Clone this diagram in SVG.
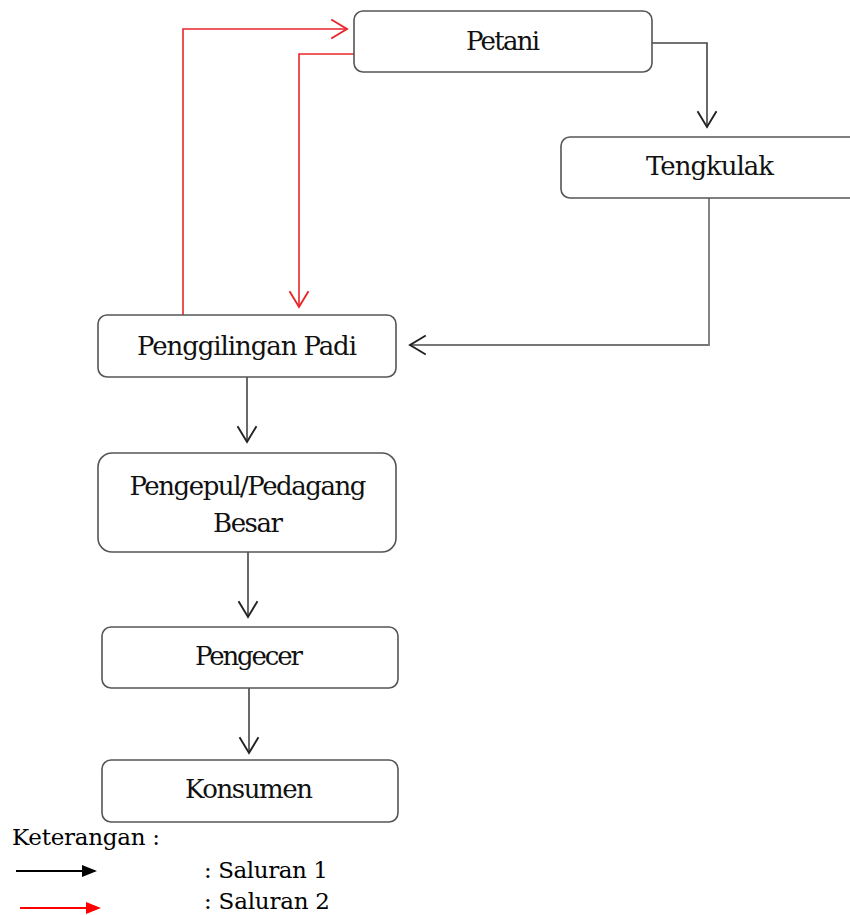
<svg xmlns="http://www.w3.org/2000/svg" width="850" height="915" viewBox="0 0 850 915">
<style>
.box{fill:#fff;stroke:#555;stroke-width:1.6}
.lbl{font-family:'DejaVu Serif',serif;font-size:26px;fill:#111;text-anchor:middle}
.leg{font-family:'DejaVu Serif',serif;font-size:23px;fill:#000}
.blk{fill:none;stroke:#444;stroke-width:1.6}
.gry{fill:none;stroke:#777;stroke-width:1.8}
.red{fill:none;stroke:#e8262a;stroke-width:1.6}
</style>
<defs>
<marker id="ab" markerUnits="userSpaceOnUse" markerWidth="20" markerHeight="24" viewBox="-17 -11 19 22" refX="0" refY="0" orient="auto">
<path d="M-15,-9 L0,0 L-15,9" fill="none" stroke="#222" stroke-width="1.8"/>
</marker>
<marker id="ar" markerUnits="userSpaceOnUse" markerWidth="20" markerHeight="24" viewBox="-17 -11 19 22" refX="0" refY="0" orient="auto">
<path d="M-15,-9 L0,0 L-15,9" fill="none" stroke="#e8262a" stroke-width="1.8"/>
</marker>
</defs>
<rect width="850" height="915" fill="#fff"/>
<g id="connectors">
<path class="red" d="M183,315 L183,29 L347,29" marker-end="url(#ar)"/>
<path class="red" d="M354,54 L299,54 L299,307" marker-end="url(#ar)"/>
<path class="blk" d="M652,43 L707,43 L707,127" marker-end="url(#ab)"/>
<path class="gry" d="M709,198 L709,345 L410,345" marker-end="url(#ab)"/>
<path class="blk" d="M247,377 L247,442" marker-end="url(#ab)"/>
<path class="blk" d="M248,552 L248,617" marker-end="url(#ab)"/>
<path class="blk" d="M249,688 L249,753" marker-end="url(#ab)"/>
</g>
<g id="petani"><rect class="box" x="354" y="11" width="298" height="61" rx="9"/><text class="lbl" x="503" y="50" textLength="74">Petani</text></g>
<g id="tengkulak"><rect class="box" x="561" y="137" width="300" height="61" rx="9"/><text class="lbl" x="710" y="175" textLength="128">Tengkulak</text></g>
<g id="penggilingan"><rect class="box" x="98" y="315" width="298" height="62" rx="9"/><text class="lbl" x="247" y="355" textLength="220">Penggilingan Padi</text></g>
<g id="pengepul"><rect class="box" x="98" y="453" width="298" height="99" rx="14"/><text class="lbl" x="248" y="495" textLength="237">Pengepul/Pedagang</text><text class="lbl" x="248" y="532" textLength="70">Besar</text></g>
<g id="pengecer"><rect class="box" x="102" y="627" width="296" height="61" rx="9"/><text class="lbl" x="249" y="665" textLength="108">Pengecer</text></g>
<g id="konsumen"><rect class="box" x="102" y="760" width="296" height="62" rx="9"/><text class="lbl" x="249" y="798" textLength="128">Konsumen</text></g>
<g id="legend">
<text class="leg" x="12" y="845" textLength="148">Keterangan :</text>
<line x1="16" y1="871" x2="84" y2="871" stroke="#000" stroke-width="2"/>
<polygon points="82,865 97,871 82,877" fill="#000"/>
<text class="leg" x="204" y="878" textLength="124">: Saluran 1</text>
<line x1="20" y1="908" x2="88" y2="908" stroke="#f00" stroke-width="2"/>
<polygon points="86,902 101,908 86,914" fill="#f00"/>
<text class="leg" x="204" y="909" textLength="126">: Saluran 2</text>
</g>
</svg>
